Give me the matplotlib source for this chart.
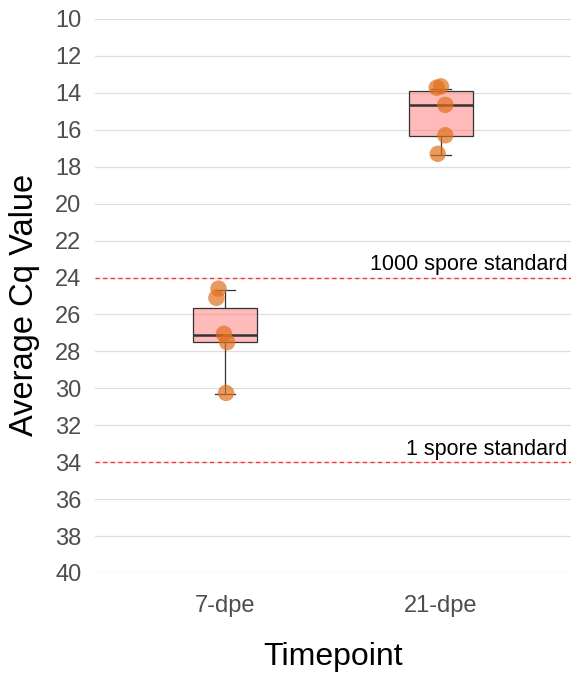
import matplotlib
matplotlib.use("Agg")
import matplotlib.pyplot as plt
import numpy as np

plt.rcParams["font.family"] = ["Liberation Sans", "DejaVu Sans"]

# ---------------------------------------------------------------------------
# Data
# ---------------------------------------------------------------------------
timepoints = ["7-dpe", "21-dpe"]

# box statistics per timepoint
whisker_low = [24.7, 13.8]
q1 = [25.65, 13.9]
median = [27.1, 14.65]
q3 = [27.5, 16.35]
whisker_high = [30.3, 17.35]

# individual (jittered) points
pts_7_x = [0.97, 0.96, 0.995, 1.01, 1.005]
pts_7_y = [24.6, 25.1, 27.05, 27.5, 30.25]
pts_21_x = [1.98, 2.0, 2.02, 2.02, 1.985]
pts_21_y = [13.72, 13.65, 14.65, 16.3, 17.3]

standards = [24, 34]
standard_labels = ["1000 spore standard", "1 spore standard"]

yticks = np.arange(10, 41, 2)

# ---------------------------------------------------------------------------
# Plot
# ---------------------------------------------------------------------------
fig = plt.figure(figsize=(5.73, 6.73), dpi=100)
ax = fig.add_axes([0.1665, 0.1486, 0.8293, 0.8232])

for y in yticks:
    ax.axhline(y, color="#DEDEDE", lw=0.9, zorder=0)

stats = [
    {"whislo": whisker_low[i], "q1": q1[i], "med": median[i],
     "q3": q3[i], "whishi": whisker_high[i], "fliers": []}
    for i in range(len(timepoints))
]
ax.bxp(stats, positions=[1, 2], widths=0.3, patch_artist=True,
       boxprops=dict(facecolor=(1.0, 0.55, 0.55, 0.6), edgecolor="#333333", lw=0.9),
       medianprops=dict(color="#333333", lw=1.8),
       whiskerprops=dict(color="#333333", lw=0.9),
       capprops=dict(color="#333333", lw=0.9),
       capwidths=0.09, zorder=2)

ax.scatter(pts_7_x, pts_7_y, s=140, color="#E0701C", alpha=0.7,
           edgecolors="none", zorder=3)
ax.scatter(pts_21_x, pts_21_y, s=140, color="#E0701C", alpha=0.7,
           edgecolors="none", zorder=3)

for y, lab in zip(standards, standard_labels):
    ax.axhline(y, color="#FF3030", lw=1.0, ls=(0, (3, 2.5)), zorder=1)
    ax.text(2.585, y - 0.12, lab, ha="right", va="bottom",
            fontsize=15.5, color="black")

ax.set_xlim(0.4, 2.6)
ax.set_ylim(40, 10)
ax.set_yticks(yticks)
ax.set_xticks([1, 2])
ax.set_xticklabels(timepoints)
ax.tick_params(length=0, labelsize=17, labelcolor="#4D4D4D")
ax.tick_params(axis="y", pad=10)
ax.tick_params(axis="x", pad=16)
for s in ax.spines.values():
    s.set_visible(False)

ax.set_ylabel("Average Cq Value", fontsize=23.5)
ax.yaxis.set_label_coords(-0.117, 0.484)
ax.set_xlabel("Timepoint", fontsize=23, labelpad=18)

fig.savefig("out.png", dpi=100)
